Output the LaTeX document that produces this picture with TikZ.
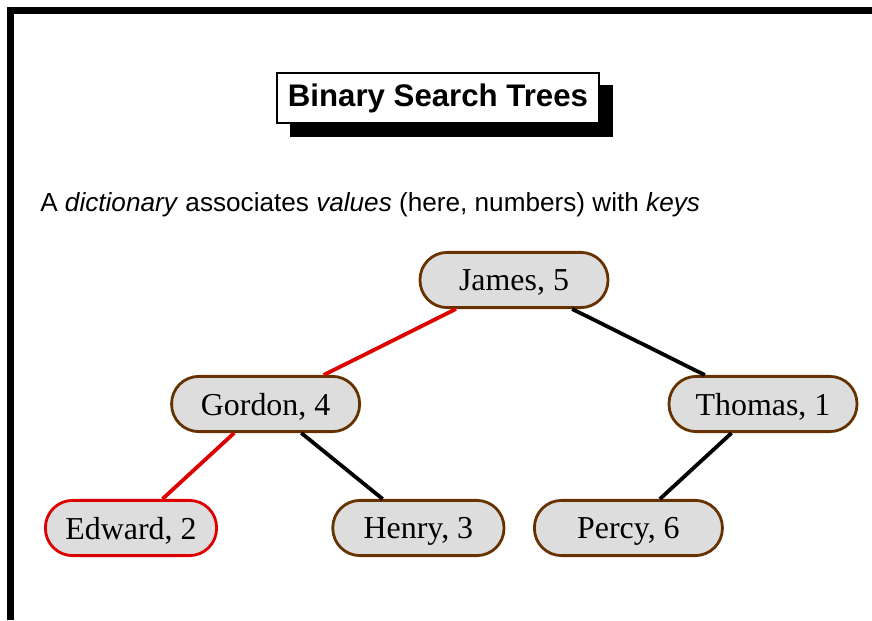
\documentclass[tikz,border=0pt]{standalone}
\usepackage{fontspec}
\setmainfont{Liberation Serif}
\setsansfont{Liberation Sans}
\usepackage{xcolor}
\definecolor{nodebrown}{RGB}{102,51,0}
\definecolor{nodegray}{RGB}{221,221,221}
\definecolor{pathred}{RGB}{221,0,0}

\tikzset{
  treenode/.style={draw=nodebrown, fill=nodegray, line width=2pt, rounded corners=0.68cm,
    minimum height=1.38cm, minimum width=4.7cm, inner sep=0pt, text depth=0pt,
    font=\fontsize{22.7}{27}\selectfont},
  narrownode/.style={treenode, minimum width=4.28cm},
  treeedge/.style={line width=2.7pt},
  rededge/.style={treeedge, pathred}
}

\begin{document}
\begin{tikzpicture}
\useasboundingbox (0,0) rectangle (21.8,15.5);

% frame
\draw[line width=5pt] (0.2625,0) -- (0.2625,15.2375) -- (21.8,15.2375);

% title with shadow
\fill[black] (7.25,12.075) rectangle (15.325,13.375);
\node[draw, fill=white, line width=1.4pt, minimum width=8.05cm, minimum height=1.25cm, inner sep=0pt,
  font=\sffamily\bfseries\fontsize{22.2}{26}\selectfont] (title) at (10.95,13.05) {Binary Search Trees};

\node[anchor=base west, inner sep=0pt, font=\sffamily\fontsize{18.6}{22}\selectfont] (intro) at (1.0,10.2)
  {A \textit{dictionary} associates \textit{values} (here, numbers) with \textit{keys}};

% tree
\node[treenode] (james) at (12.85,8.5) {James, 5};
\node[treenode] (gordon) at (6.64,5.4) {Gordon, 4};
\node[treenode] (thomas) at (19.075,5.4) {Thomas, 1};
\node[narrownode, draw=pathred] (edward) at (3.275,2.3) {Edward, 2};
\node[narrownode] (henry) at (10.46,2.3) {Henry, 3};
\node[treenode] (percy) at (15.71,2.3) {Percy, 6};

\draw[rededge] (james) -- (gordon);
\draw[treeedge] (james) -- (thomas);
\draw[rededge] (gordon) -- (edward);
\draw[treeedge] (gordon) -- (henry);
\draw[treeedge] (thomas) -- (percy);
\end{tikzpicture}
\end{document}
